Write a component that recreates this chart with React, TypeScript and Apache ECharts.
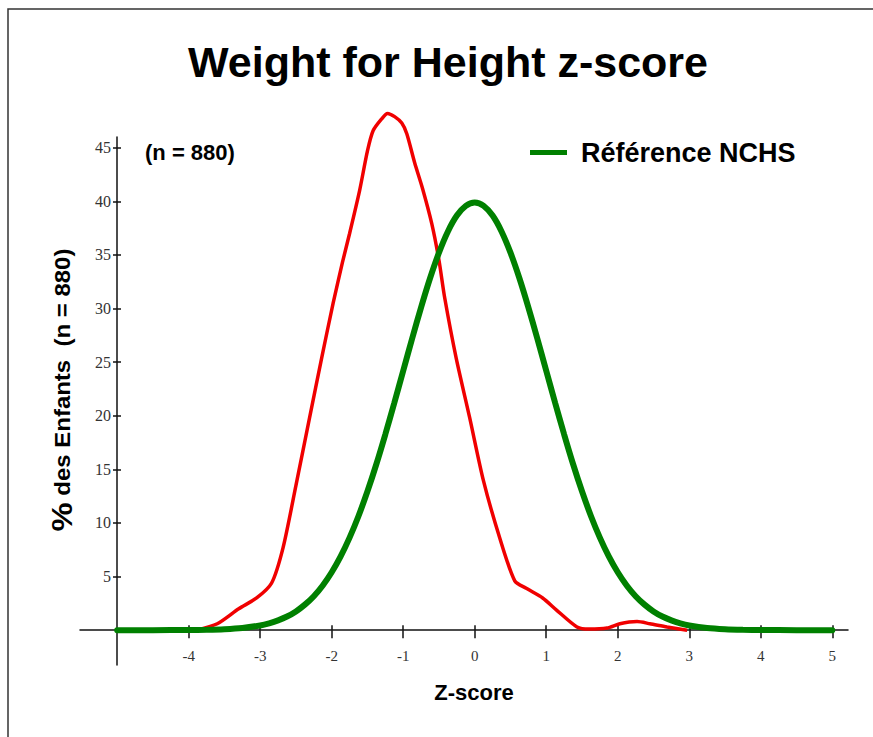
import React, { useEffect, useRef } from "react";
import * as echarts from "echarts";

const chartTitle = "Weight for Height z-score";
const legendName = "Référence NCHS";
const sampleName = "Échantillon (n = 880)";
const sampleNote = "(n = 880)";
const xTitle = "Z-score";
const yTitle = "des Enfants  (n = 880)";

const xTickValues = [-4, -3, -2, -1, 0, 1, 2, 3, 4, 5];
const yTickValues = [5, 10, 15, 20, 25, 30, 35, 40, 45];

// Sample distribution (red)
const redZ = [-3.9, -3.6, -3.3, -3.05, -2.84, -2.68, -2.5, -2.31, -2.14, -1.98, -1.85, -1.75, -1.61, -1.5, -1.42, -1.3, -1.22, -1.12, -1.02, -0.95, -0.84, -0.73, -0.6, -0.5, -0.42, -0.26, -0.07, 0.12, 0.35, 0.56, 0.72, 0.95, 1.14, 1.43, 1.6, 1.85, 2.03, 2.27, 2.45, 2.69, 2.97];
const redPct = [0, 0.6, 2.0, 3.0, 4.4, 7.7, 13.5, 19.8, 25.4, 30.5, 34.3, 37.0, 41.0, 44.7, 46.6, 47.7, 48.2, 47.9, 47.3, 46.3, 43.6, 41.2, 37.9, 34.5, 31.0, 25.4, 19.8, 14.0, 8.6, 4.6, 3.9, 3.0, 1.9, 0.3, 0.1, 0.2, 0.6, 0.8, 0.6, 0.3, 0];

// NCHS reference (green)
const greenZ = [-5, -4.5, -4, -3.75, -3.5, -3.25, -3, -2.875, -2.75, -2.625, -2.5, -2.375, -2.25, -2.125, -2, -1.875, -1.75, -1.625, -1.5, -1.375, -1.25, -1.125, -1, -0.875, -0.75, -0.625, -0.5, -0.375, -0.25, -0.125, 0, 0.125, 0.25, 0.375, 0.5, 0.625, 0.75, 0.875, 1, 1.125, 1.25, 1.375, 1.5, 1.625, 1.75, 1.875, 2, 2.125, 2.25, 2.375, 2.5, 2.625, 2.75, 2.875, 3, 3.25, 3.5, 3.75, 4, 4.5, 5];
const greenPct = [0, 0.002, 0.013, 0.035, 0.087, 0.2, 0.44, 0.64, 0.91, 1.27, 1.75, 2.38, 3.17, 4.17, 5.4, 6.88, 8.63, 10.65, 12.95, 15.5, 18.27, 21.19, 24.2, 27.2, 30.11, 32.82, 35.21, 37.19, 38.67, 39.58, 39.89, 39.58, 38.67, 37.19, 35.21, 32.82, 30.11, 27.2, 24.2, 21.19, 18.27, 15.5, 12.95, 10.65, 8.63, 6.88, 5.4, 4.17, 3.17, 2.38, 1.75, 1.27, 0.91, 0.64, 0.44, 0.2, 0.087, 0.035, 0.013, 0.002, 0];

const SANS = "'Liberation Sans', Arial, Helvetica, sans-serif";
const SERIF = "'Liberation Serif', 'Times New Roman', serif";

export default function App() {
  const ref = useRef<HTMLDivElement>(null);
  useEffect(() => {
    if (!ref.current) return;
    const chart = echarts.init(ref.current, undefined, { renderer: "svg" });
    const yMin = -3.25;
    const yMax = 46;
    const xMin = -5.52;
    const xMax = 5.22;
    const axisColor = "#111";
    chart.setOption({
      animation: false,
      backgroundColor: "#fff",
      grid: { left: 80, right: 25, top: 137, bottom: 72, containLabel: false },
      xAxis: [
        {
          type: "value",
          min: xMin,
          max: xMax,
          axisLine: { show: true, onZero: true, lineStyle: { color: axisColor, width: 1.5 } },
          axisTick: { show: true, customValues: xTickValues, length: 8, lineStyle: { color: axisColor, width: 1.5 } },
          axisLabel: {
            show: true,
            customValues: xTickValues,
            margin: -17,
            fontFamily: SERIF,
            fontSize: 15,
            color: "#333",
          },
          splitLine: { show: false },
        },
        {
          type: "value",
          min: xMin,
          max: xMax,
          position: "bottom",
          axisLine: { show: false, onZero: true },
          axisTick: { show: true, inside: true, customValues: xTickValues, length: 5, lineStyle: { color: axisColor, width: 1.5 } },
          axisLabel: { show: false },
          splitLine: { show: false },
        },
      ],
      yAxis: [
        {
          type: "value",
          min: yMin,
          max: yMax,
          position: "left",
          offset: -37,
          axisLine: { show: true, onZero: false, lineStyle: { color: axisColor, width: 1.5 } },
          axisTick: { show: true, customValues: yTickValues, length: 4, lineStyle: { color: axisColor, width: 1.5 } },
          axisLabel: {
            show: true,
            customValues: yTickValues,
            margin: 6,
            fontFamily: SERIF,
            fontSize: 16,
            color: "#333",
          },
          splitLine: { show: false },
        },
        {
          type: "value",
          min: yMin,
          max: yMax,
          position: "left",
          offset: -37,
          axisLine: { show: false, onZero: false },
          axisTick: { show: true, inside: true, customValues: yTickValues, length: 4, lineStyle: { color: axisColor, width: 1.5 } },
          axisLabel: { show: false },
          splitLine: { show: false },
        },
      ],
      legend: {
        data: [legendName],
        left: 530,
        top: 139,
        padding: 0,
        icon: "rect",
        itemWidth: 37,
        itemHeight: 5,
        textStyle: { fontFamily: SANS, fontSize: 27, fontWeight: "bold", color: "#000", padding: [0, 0, 0, 9] },
      },
      series: [
        {
          name: sampleName,
          type: "line",
          xAxisIndex: 0,
          yAxisIndex: 0,
          data: redZ.map((z, i) => [z, redPct[i]]),
          smooth: 0.25,
          clip: false,
          showSymbol: false,
          symbol: "none",
          lineStyle: { color: "#f00000", width: 3.5 },
          itemStyle: { color: "#f00000" },
          z: 3,
        },
        {
          name: legendName,
          type: "line",
          xAxisIndex: 0,
          yAxisIndex: 0,
          data: greenZ.map((z, i) => [z, greenPct[i]]),
          smooth: 0.3,
          clip: false,
          showSymbol: false,
          symbol: "none",
          lineStyle: { color: "#008000", width: 6, cap: "round" },
          itemStyle: { color: "#008000" },
          z: 4,
        },
      ],
      graphic: [
        {
          type: "rect",
          shape: { x: 8, y: 9, width: 900, height: 800 },
          style: { fill: "none", stroke: "#333", lineWidth: 1.5 },
          silent: true,
          z: 100,
        },
        {
          type: "text",
          x: 448,
          y: 62,
          style: {
            text: chartTitle,
            fontFamily: SANS,
            fontWeight: "bold",
            fontSize: 43,
            fill: "#000",
            textAlign: "center",
            textVerticalAlign: "middle",
          },
        },
        {
          type: "text",
          x: 145,
          y: 152,
          style: {
            text: sampleNote,
            fontFamily: SANS,
            fontWeight: "bold",
            fontSize: 22,
            fill: "#000",
            textAlign: "left",
            textVerticalAlign: "middle",
          },
        },
        {
          type: "text",
          x: 474,
          y: 692,
          style: {
            text: xTitle,
            fontFamily: SANS,
            fontWeight: "bold",
            fontSize: 22,
            fill: "#000",
            textAlign: "center",
            textVerticalAlign: "middle",
          },
        },
        {
          type: "text",
          x: 62,
          y: 390,
          rotation: Math.PI / 2,
          scaleX: 1.09,
          style: {
            text: "{p|%} " + yTitle,
            fontFamily: SANS,
            fontWeight: "bold",
            fontSize: 22,
            fill: "#000",
            textAlign: "center",
            textVerticalAlign: "middle",
            rich: {
              p: { fontFamily: SANS, fontWeight: "bold", fontSize: 30, fill: "#000" },
            },
          },
        },
      ],
    });
    return () => chart.dispose();
  }, []);
  return (
    <div
      ref={ref}
      style={{ position: "fixed", left: 0, top: 0, width: 873, height: 737, background: "#fff" }}
    />
  );
}
